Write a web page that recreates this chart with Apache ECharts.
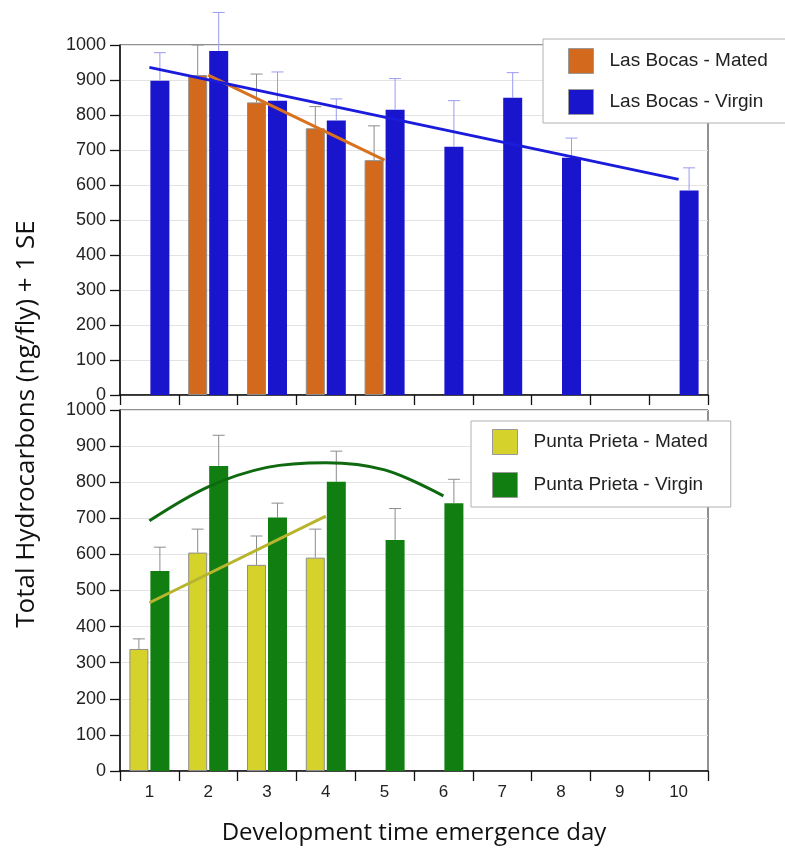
<!DOCTYPE html>
<html>
<head>
<meta charset="utf-8">
<script src="https://cdn.jsdelivr.net/npm/echarts@6/dist/echarts.min.js"></script>
<style>
  html, body { margin: 0; padding: 0; background: #fff; }
  #chart { width: 785px; height: 855px; }
</style>
</head>
<body>
<div id="chart"></div>
<script>
// ---- data ----
const days = ['1', '2', '3', '4', '5', '6', '7', '8', '9', '10'];
const yTicks = [0, 100, 200, 300, 400, 500, 600, 700, 800, 900, 1000];

// Las Bocas (top panel)
const lbMated      = [null, 914, 836, 762, 671, null, null, null, null, null];
const lbMatedSE    = [null, 1000, 917, 824, 769, null, null, null, null, null];   // mean + 1 SE
const lbVirgin     = [898, 983, 841, 784, 815, 709, 849, 678, null, 584];
const lbVirginSE   = [978, 1093, 923, 846, 904, 841, 921, 734, null, 649];
const lbMatedFit   = [null, 914, null, null, 671, null, null, null, null, null];
const lbVirginFit  = [936, null, null, null, null, null, null, null, null, 616];

// Punta Prieta (bottom panel)
const ppMated      = [338, 605, 571, 591, null, null, null, null, null, null];
const ppMatedSE    = [366, 670, 651, 670, null, null, null, null, null, null];
const ppVirgin     = [554, 845, 702, 801, 640, 742, null, null, null, null];
const ppVirginSE   = [620, 930, 742, 886, 727, 808, null, null, null, null];
const ppMatedFit   = [466, null, null, 706, null, null, null, null, null, null];
const ppVirginFit  = [693, 787, 841, 854, 834, 762, null, null, null, null];

// ---- styling constants ----
const BAR_W = 19;
const BAR_GAP_PX = 2;
const HALF_OFF = (BAR_W + BAR_GAP_PX) / 2;
const CAP = 6;
const SANS = "'Liberation Sans', Arial, Helvetica, sans-serif";
const TITLE_FONT = "'Open Sans', 'Noto Sans', sans-serif";

const C = {
  orange: '#d2691d',
  blue: '#1915cc',
  yellow: '#d4d22b',
  green: '#117e12',
  blueLine: '#1b1bdc',
  orangeLine: '#d8721f',
  yellowLine: '#b7b52d',
  greenLine: '#0e690f',
  errBlue: '#9b9bf2',
  errGray: '#8c8c8c'
};

function errData(mean, top) {
  const out = [];
  for (let i = 0; i < mean.length; i++) {
    if (mean[i] != null && top[i] != null) out.push([i, mean[i], top[i]]);
  }
  return out;
}

function errSeries(name, idx, mean, top, offset, color) {
  return {
    name: name,
    type: 'custom',
    xAxisIndex: idx,
    yAxisIndex: idx,
    z: 3,
    silent: true,
    encode: { x: 0, y: [1, 2] },
    data: errData(mean, top),
    renderItem: function (params, api) {
      const lo = api.coord([api.value(0), api.value(1)]);
      const hi = api.coord([api.value(0), api.value(2)]);
      const x = lo[0] + offset;
      const st = { stroke: color, lineWidth: 1 };
      return {
        type: 'group',
        children: [
          { type: 'line', shape: { x1: x, y1: lo[1], x2: x, y2: hi[1] }, style: st },
          { type: 'line', shape: { x1: x - CAP, y1: hi[1], x2: x + CAP, y2: hi[1] }, style: st }
        ]
      };
    }
  };
}

function barSeries(name, idx, data, color, border) {
  return {
    name: name,
    type: 'bar',
    xAxisIndex: idx,
    yAxisIndex: idx,
    data: data,
    barWidth: BAR_W,
    barGap: (BAR_GAP_PX / BAR_W * 100) + '%',
    z: 2,
    itemStyle: {
      color: color,
      borderColor: border ? '#8e8e8e' : color,
      borderWidth: border ? 1 : 0
    }
  };
}

function lineSeries(name, idx, data, color, smooth, width) {
  return {
    name: name,
    type: 'line',
    xAxisIndex: idx,
    yAxisIndex: idx,
    data: data,
    connectNulls: true,
    smooth: smooth ? 0.35 : false,
    showSymbol: false,
    symbol: 'none',
    z: 4,
    silent: true,
    lineStyle: { color: color, width: width || 3 }
  };
}

function xAxisDef(idx, showLabels) {
  const ax = {
    type: 'category',
    gridIndex: idx,
    data: days,
    boundaryGap: true,
    axisLine: { lineStyle: { color: '#111', width: 1.5 } },
    axisTick: { show: true, length: 10, interval: 0, lineStyle: { color: '#111', width: 1.3 } },
    axisLabel: {
      show: showLabels, interval: 0, margin: 13,
      fontFamily: SANS, fontSize: 17, color: '#222'
    },
    splitLine: { show: false }
  };
  if (showLabels) {
    ax.name = 'Development time emergence day';
    ax.nameLocation = 'middle';
    ax.nameGap = 50;
    ax.nameTextStyle = { fontFamily: TITLE_FONT, fontSize: 24, color: '#111' };
  }
  return ax;
}

function yAxisDef(idx) {
  return {
    type: 'value',
    gridIndex: idx,
    min: yTicks[0],
    max: yTicks[yTicks.length - 1],
    interval: 100,
    axisLine: { show: true, lineStyle: { color: '#111', width: 1.5 } },
    axisTick: { show: true, length: 10, lineStyle: { color: '#111', width: 1.3 } },
    axisLabel: {
      margin: 14, fontFamily: SANS, fontSize: 18, color: '#222',
      formatter: function (v) { return String(v); }
    },
    splitLine: { show: true, lineStyle: { color: '#e3e3e3', width: 1 } }
  };
}

function legendDef(names, left, top, padding, gap) {
  return {
    data: names,
    orient: 'vertical',
    left: left,
    top: top,
    padding: padding,
    itemGap: gap,
    itemWidth: 25,
    itemHeight: 25,
    icon: 'rect',
    selectedMode: false,
    backgroundColor: '#fff',
    borderColor: '#b0b0b0',
    borderWidth: 1,
    itemStyle: { borderColor: '#999', borderWidth: 1 },
    textStyle: { fontFamily: SANS, fontSize: 19, color: '#222', padding: [0, 0, 0, 11] }
  };
}

const chart = echarts.init(document.getElementById('chart'), null, { renderer: 'canvas' });

chart.setOption({
  backgroundColor: '#fff',
  animation: false,
  grid: [
    { left: 120, top: 45, width: 588, height: 350, show: true, borderColor: '#222', borderWidth: 1, backgroundColor: 'transparent' },
    { left: 120, top: 410, width: 588, height: 361, show: true, borderColor: '#222', borderWidth: 1, backgroundColor: 'transparent' }
  ],
  xAxis: [xAxisDef(0, false), xAxisDef(1, true)],
  yAxis: [yAxisDef(0), yAxisDef(1)],
  legend: [
    legendDef(['Las Bocas - Mated', 'Las Bocas - Virgin'], 543, 39, [9, 30, 8, 25], 15),
    legendDef(['Punta Prieta - Mated', 'Punta Prieta - Virgin'], 471, 421, [8, 23, 9, 21], 17)
  ],
  graphic: [
    {
      type: 'text',
      x: 27,
      y: 424,
      rotation: Math.PI / 2,
      style: {
        text: 'Total Hydrocarbons (ng/fly) + 1 SE',
        fontFamily: TITLE_FONT,
        fontSize: 26,
        fill: '#111',
        align: 'center',
        verticalAlign: 'middle'
      }
    }
  ],
  series: [
    barSeries('Las Bocas - Mated', 0, lbMated, C.orange, true),
    barSeries('Las Bocas - Virgin', 0, lbVirgin, C.blue, false),
    errSeries('lbMatedErr', 0, lbMated, lbMatedSE, -HALF_OFF, C.errGray),
    errSeries('lbVirginErr', 0, lbVirgin, lbVirginSE, HALF_OFF, C.errBlue),
    lineSeries('lbMatedFit', 0, lbMatedFit, C.orangeLine, false),
    lineSeries('lbVirginFit', 0, lbVirginFit, C.blueLine, false),

    barSeries('Punta Prieta - Mated', 1, ppMated, C.yellow, true),
    barSeries('Punta Prieta - Virgin', 1, ppVirgin, C.green, false),
    errSeries('ppMatedErr', 1, ppMated, ppMatedSE, -HALF_OFF, C.errGray),
    errSeries('ppVirginErr', 1, ppVirgin, ppVirginSE, HALF_OFF, C.errGray),
    lineSeries('ppMatedFit', 1, ppMatedFit, C.yellowLine, false),
    lineSeries('ppVirginFit', 1, ppVirginFit, C.greenLine, true, 3)
  ]
});
</script>
</body>
</html>
